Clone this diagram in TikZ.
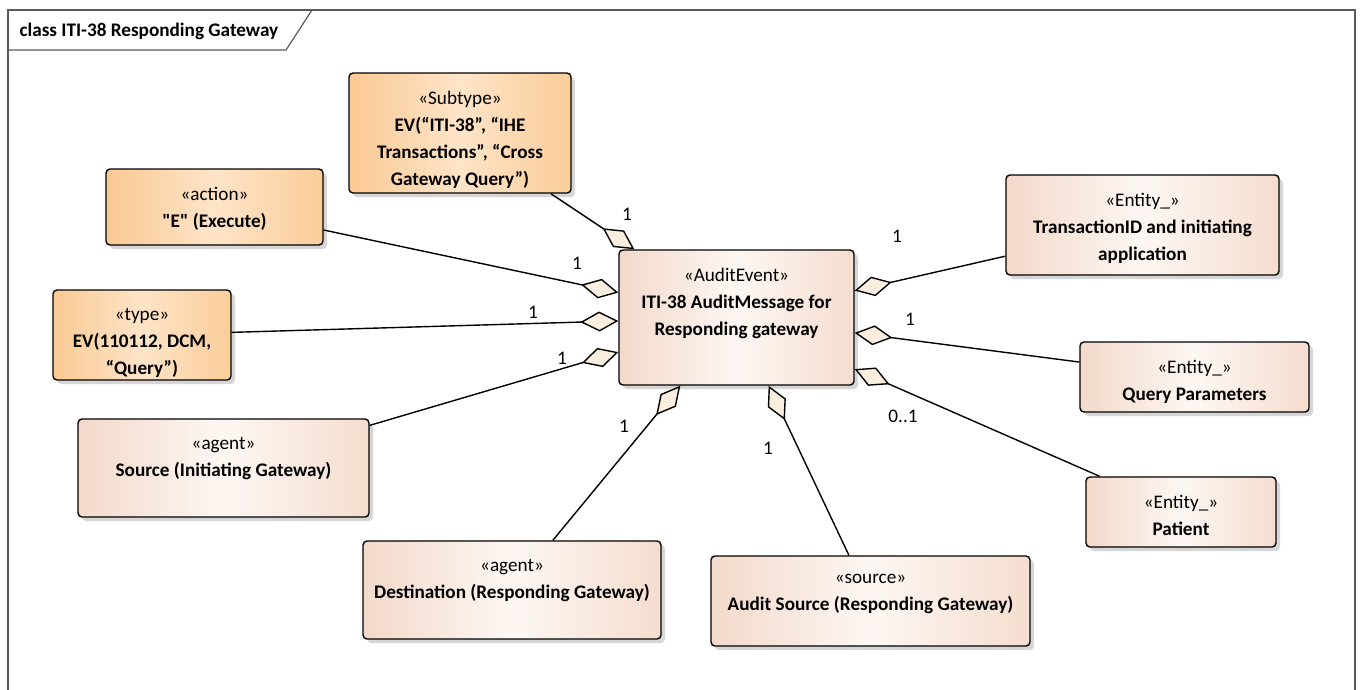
\documentclass[tikz,border=0pt]{standalone}
\usepackage{fontspec}
\setmainfont{Carlito}[Ligatures=TeXOff]
\usepackage{tikz}
\usetikzlibrary{arrows.meta,%
                shadows}

\definecolor{orangeL}{HTML}{F9C993}
\definecolor{orangeM}{HTML}{FEE4C8}
\definecolor{orangeR}{HTML}{FBCD99}
\definecolor{pinkL}{HTML}{F3D9CA}
\definecolor{pinkM}{HTML}{FDF7F3}
\definecolor{pinkR}{HTML}{F5DDCF}
\definecolor{cream}{HTML}{FAEEDF}
\definecolor{framegray}{HTML}{5A5A5A}

\begin{document}
\begin{tikzpicture}[x=1pt,y=-1pt,font=\fontsize{19.2}{27}\selectfont]
  \tikzstyle{Box}=[draw=black,line width=1.4pt,rounded corners=4pt,inner sep=0pt,
    drop shadow={shadow xshift=4pt,shadow yshift=-4pt,fill=black!16,opacity=1}]
  \tikzstyle{OrangeBox}=[Box,left color=orangeL,right color=orangeR,middle color=orangeM]
  \tikzstyle{PinkBox}=[Box,left color=pinkL,right color=pinkR,middle color=pinkM]
  \tikzstyle{Text}=[anchor=north,yshift=-19pt,align=center,inner sep=0pt]
  \tikzstyle{Mult}=[inner sep=0pt]
  \tikzstyle{EdgeStyle}=[line width=1.4pt,{Diamond[length=38pt,width=20pt,fill=cream]}-]
  \useasboundingbox (0,0) rectangle (1365,689);
  % frame
  \draw[framegray,line width=1.4pt] (8,700) -- (8,10) -- (1355,10) -- (1355,700);
  \draw[framegray,line width=1.2pt] (8,50) -- (286,50) -- (312,10);
  \node[anchor=west,font=\fontsize{19.2}{27}\selectfont\bfseries] (Title) at (16,31)
    {class ITI-38 Responding Gateway};
  % classes
  \node[PinkBox,minimum width=235pt,minimum height=135pt,
    label={[Text]north:{«AuditEvent»\\\textbf{ITI-38 AuditMessage for}\\\textbf{Responding gateway}}}]
    (Audit) at (736.5,317.5) {};
  \node[OrangeBox,minimum width=222pt,minimum height=120pt,
    label={[Text]north:{«Subtype»\\\textbf{EV(“ITI-38”, “IHE}\\\textbf{Transactions”, “Cross}\\\textbf{Gateway Query”)}}}]
    (Subtype) at (460,133) {};
  \node[OrangeBox,minimum width=217pt,minimum height=76pt,
    label={[Text]north:{«action»\\\textbf{"E" (Execute)}}}]
    (Action) at (214.5,207) {};
  \node[OrangeBox,minimum width=178pt,minimum height=90pt,
    label={[Text]north:{«type»\\\textbf{EV(110112, DCM,}\\\textbf{“Query”)}}}]
    (Type) at (142,335) {};
  \node[PinkBox,minimum width=291pt,minimum height=98pt,
    label={[Text]north:{«agent»\\\textbf{Source (Initiating Gateway)}}}]
    (Source) at (223.5,468) {};
  \node[PinkBox,minimum width=298pt,minimum height=98pt,
    label={[Text]north:{«agent»\\\textbf{Destination (Responding Gateway)}}}]
    (Dest) at (512,590) {};
  \node[PinkBox,minimum width=319pt,minimum height=90pt,
    label={[Text]north:{«source»\\\textbf{Audit Source (Responding Gateway)}}}]
    (ASource) at (870.5,601) {};
  \node[PinkBox,minimum width=190pt,minimum height=70pt,
    label={[Text]north:{«Entity\_»\\\textbf{Patient}}}]
    (Patient) at (1181,512) {};
  \node[PinkBox,minimum width=229pt,minimum height=70pt,
    label={[Text]north:{«Entity\_»\\\textbf{Query Parameters}}}]
    (Query) at (1194.5,377) {};
  \node[PinkBox,minimum width=273pt,minimum height=100pt,
    label={[Text]north:{«Entity\_»\\\textbf{TransactionID and initiating}\\\textbf{application}}}]
    (TransID) at (1142.5,225) {};
  % aggregations
  \draw[EdgeStyle] (Audit) -- (Subtype);
  \draw[EdgeStyle] (Audit) -- (Action);
  \draw[EdgeStyle] (Audit) -- (Type);
  \draw[EdgeStyle] (Audit) -- (Source);
  \draw[EdgeStyle] (Audit) -- (Dest);
  \draw[EdgeStyle] (Audit) -- (ASource);
  \draw[EdgeStyle] (Audit) -- (Patient);
  \draw[EdgeStyle] (Audit) -- (Query);
  \draw[EdgeStyle] (Audit) -- (TransID);
  % multiplicities
  \node[Mult] (mSubtype) at (627,214) {1};
  \node[Mult] (mAction) at (577,263) {1};
  \node[Mult] (mType) at (533,312) {1};
  \node[Mult] (mSource) at (562,358) {1};
  \node[Mult] (mDest) at (624,426) {1};
  \node[Mult] (mASource) at (768,448) {1};
  \node[Mult] (mPatient) at (903,416) {0..1};
  \node[Mult] (mQuery) at (910,319) {1};
  \node[Mult] (mTransID) at (897,236) {1};
\end{tikzpicture}
\end{document}
